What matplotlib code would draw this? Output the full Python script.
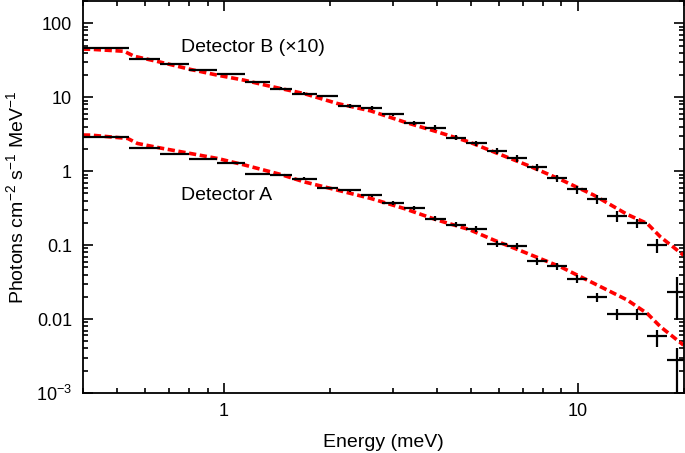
import numpy as np
import matplotlib
matplotlib.use("Agg")
import matplotlib.pyplot as plt
from matplotlib.ticker import FixedLocator, FixedFormatter, LogLocator, NullFormatter

plt.rcParams['font.family'] = ['Liberation Sans', 'DejaVu Sans']
plt.rcParams['mathtext.fontset'] = 'custom'
plt.rcParams['mathtext.rm'] = 'Liberation Sans'
plt.rcParams['mathtext.it'] = 'Liberation Sans:italic'

# energy bin edges (meV)
energy_edges = [0.40, 0.54, 0.66, 0.80, 0.96, 1.15, 1.35, 1.56, 1.83, 2.11, 2.44, 2.81, 3.23,
                3.70, 4.24, 4.85, 5.53, 6.30, 7.20, 8.20, 9.35, 10.65, 12.13, 13.82, 15.74,
                17.92, 20.4]

# detector B (x10)
flux_b = [47, 32.6, 27.9, 23.2, 20.3, 16.1, 13.1, 11.2, 10.4, 7.63, 7.17, 5.84, 4.50, 3.89,
          2.85, 2.37, 1.88, 1.50, 1.13, 0.804, 0.566, 0.418, 0.249, 0.198, 0.099, 0.0234]
rel_err_b = [0.01, 0.01, 0.01, 0.01, 0.01, 0.03, 0.04, 0.04, 0.04, 0.05, 0.05, 0.06, 0.07,
             0.07, 0.08, 0.09, 0.09, 0.10, 0.10, 0.11, 0.12, 0.13, 0.17, 0.15, 0.22, 0.59]

# detector A
flux_a = [2.91, 2.03, 1.70, 1.47, 1.27, 0.925, 0.883, 0.792, 0.595, 0.551, 0.471, 0.372,
          0.316, 0.228, 0.189, 0.164, 0.103, 0.098, 0.0602, 0.0515, 0.0347, 0.0198, 0.0117,
          0.0117, 0.0059, 0.00279]
rel_err_a_lo = [0.01, 0.01, 0.01, 0.01, 0.02, 0.03, 0.03, 0.04, 0.04, 0.05, 0.05, 0.06, 0.06,
                0.07, 0.08, 0.09, 0.09, 0.10, 0.10, 0.10, 0.12, 0.13, 0.17, 0.18, 0.28, 0.80]
rel_err_a_hi = [0.01, 0.01, 0.01, 0.01, 0.02, 0.03, 0.03, 0.04, 0.04, 0.05, 0.05, 0.06, 0.06,
                0.07, 0.08, 0.09, 0.09, 0.10, 0.10, 0.10, 0.12, 0.13, 0.17, 0.18, 0.20, 0.45]

# model curves
model_b_x = [0.40, 0.421, 0.523, 0.558, 0.664, 0.807, 0.963, 1.141, 1.349, 1.449, 1.686, 2.095,
             2.602, 3.231, 4.015, 4.93, 5.80, 7.21, 8.95, 11.12, 13.82, 15.74, 17.16, 19.93]
model_b_y = [44.7, 44.5, 41.8, 35.8, 29.7, 23.7, 19.8, 17.0, 14.1, 13.1, 11.2, 8.22, 6.53,
             4.64, 3.40, 2.49, 1.82, 1.205, 0.772, 0.474, 0.260, 0.196, 0.129, 0.0732]
model_a_x = [0.40, 0.421, 0.535, 0.570, 0.664, 0.807, 0.963, 1.146, 1.449, 1.686, 2.095, 2.602,
             3.231, 4.015, 4.93, 5.80, 7.21, 8.95, 11.12, 13.82, 15.74, 17.16, 19.93]
model_a_y = [3.08, 3.07, 2.77, 2.37, 2.05, 1.73, 1.48, 1.21, 0.902, 0.717, 0.554, 0.428,
             0.313, 0.218, 0.163, 0.117, 0.0773, 0.0509, 0.0304, 0.0181, 0.0119, 0.00787,
             0.00445]

ytick_vals = [1e-3, 1e-2, 1e-1, 1, 10, 100]
ytick_labels = ['10$^{\u22123}$', '0.01', '0.1', '1', '10', '100']

edges = np.array(energy_edges)
centers = np.sqrt(edges[:-1] * edges[1:])
xerr = [centers - edges[:-1], edges[1:] - centers]

fig = plt.figure(figsize=(6.85, 4.53), dpi=100)
ax = fig.add_axes([83 / 685, 1 - 393 / 453, 601 / 685, 392 / 453])

dash = (0, (2.0, 1.0))
ax.plot(model_b_x, model_b_y, color='#ff0000', lw=2.6, linestyle=dash, zorder=2)
ax.plot(model_a_x, model_a_y, color='#ff0000', lw=2.6, linestyle=dash, zorder=2)

fb = np.array(flux_b)
ax.errorbar(centers, fb, xerr=xerr, yerr=fb * np.array(rel_err_b), fmt='none',
            ecolor='black', elinewidth=1.6, capsize=0, zorder=3)
fa = np.array(flux_a)
ax.errorbar(centers, fa, xerr=xerr,
            yerr=[fa * np.array(rel_err_a_lo), fa * np.array(rel_err_a_hi)], fmt='none',
            ecolor='black', elinewidth=1.6, capsize=0, zorder=3)

ax.set_xscale('log')
ax.set_yscale('log')
ax.set_xlim(0.4, 20)
ax.set_ylim(1e-3, 200)

ax.xaxis.set_major_locator(FixedLocator([1, 10]))
ax.xaxis.set_major_formatter(FixedFormatter(['1', '10']))
ax.xaxis.set_minor_locator(LogLocator(base=10, subs=np.arange(2, 10), numticks=20))
ax.xaxis.set_minor_formatter(NullFormatter())
ax.yaxis.set_major_locator(FixedLocator(ytick_vals))
ax.yaxis.set_major_formatter(FixedFormatter(ytick_labels))
ax.yaxis.set_minor_locator(LogLocator(base=10, subs=np.arange(2, 10), numticks=20))
ax.yaxis.set_minor_formatter(NullFormatter())

ax.tick_params(which='both', direction='in', top=True, right=True, width=1.2,
               labelsize=13)
ax.tick_params(which='major', length=7)
ax.tick_params(which='minor', length=3.8)
ax.tick_params(axis='x', which='major', pad=7)
ax.tick_params(axis='y', which='major', pad=8)
for s in ax.spines.values():
    s.set_linewidth(1.3)

ax.set_xlabel('Energy (meV)', fontsize=14, labelpad=10)
ax.set_ylabel('Photons cm$^{\u22122}$ s$^{\u22121}$ MeV$^{\u22121}$', fontsize=14, labelpad=6)

ax.text(0.755, 40.9, 'Detector B (\u00d710)', fontsize=14, ha='left', va='baseline')
ax.text(0.755, 0.406, 'Detector A', fontsize=14, ha='left', va='baseline')

fig.savefig('out.png', dpi=100)
